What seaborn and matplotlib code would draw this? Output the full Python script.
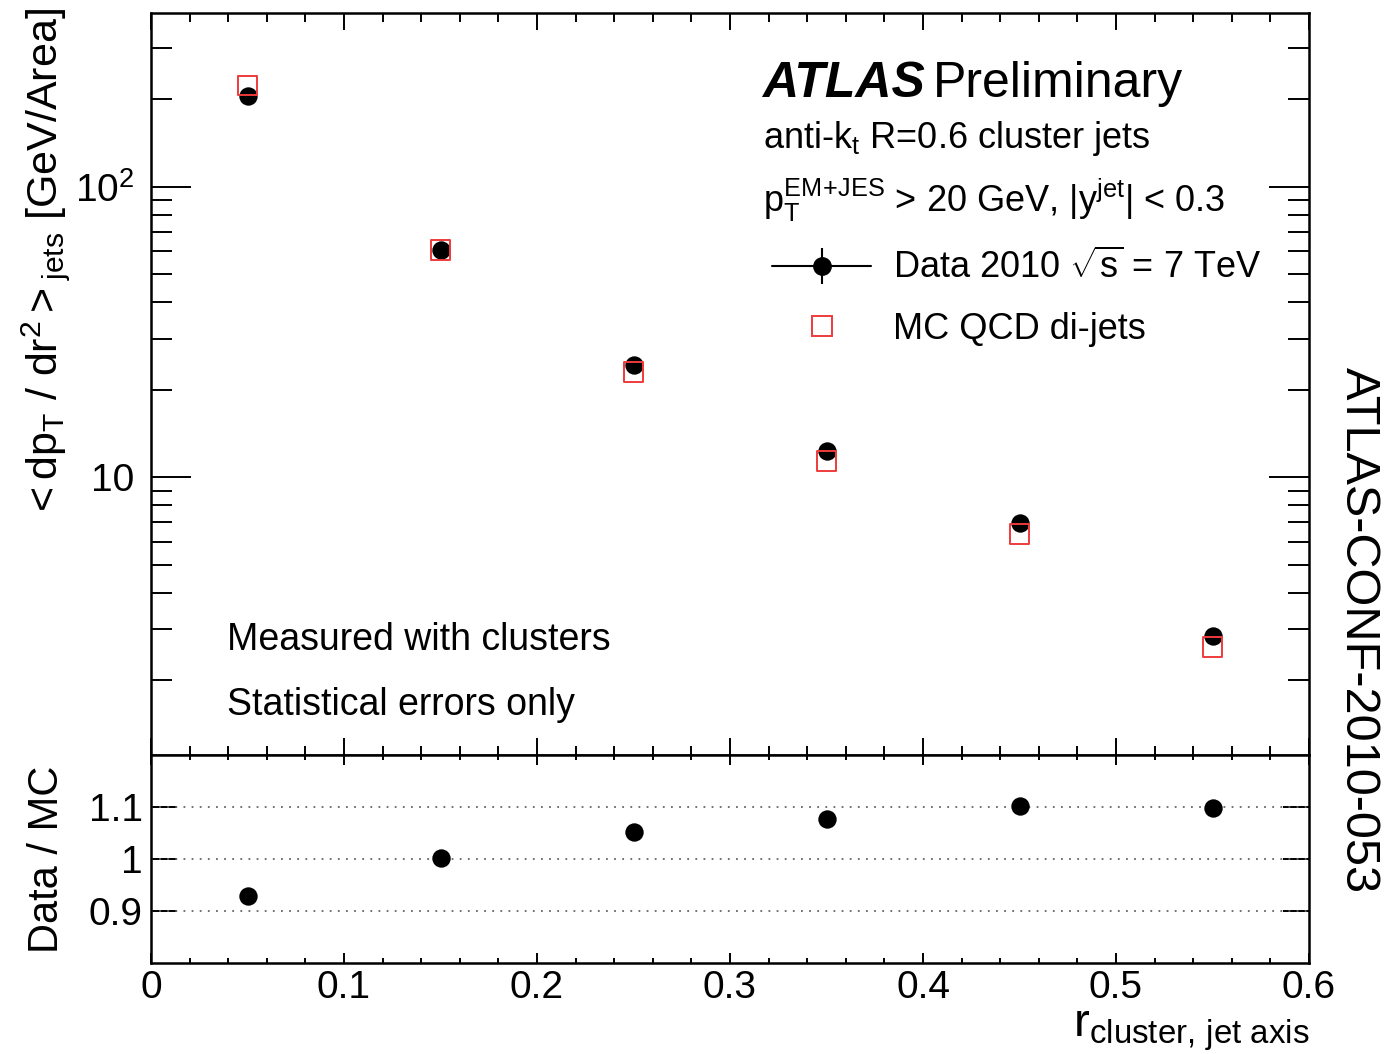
import numpy as np
import pandas as pd
import seaborn as sns
import matplotlib.pyplot as plt
from matplotlib.lines import Line2D
from matplotlib.legend_handler import HandlerTuple
from matplotlib.ticker import MultipleLocator, LogLocator, FixedLocator, FuncFormatter, NullFormatter

# values
r_bins = [0.05, 0.15, 0.25, 0.35, 0.45, 0.55]
data_dpt = [205.0, 60.7, 24.3, 12.3, 6.95, 2.84]
mc_dpt = [223.0, 60.7, 23.0, 11.4, 6.37, 2.61]
ratio_vals = [0.928, 1.002, 1.052, 1.077, 1.102, 1.098]

x_ticks = [0.0, 0.1, 0.2, 0.3, 0.4, 0.5, 0.6]
y_major = [10, 100]
y_major_labels = ['10', r'$10^{2}$']
ratio_ticks = [0.9, 1.0, 1.1]
ratio_labels = ['0.9', '1', '1.1']

W, H = 1397, 1054


def px(x, y):
    """pixel (from top-left) -> figure fraction"""
    return x / W, 1 - y / H


sns.set_style('ticks')
plt.rcParams['font.family'] = ['Liberation Sans', 'DejaVu Sans']
plt.rcParams['mathtext.fontset'] = 'custom'
plt.rcParams['mathtext.rm'] = 'Liberation Sans'
plt.rcParams['mathtext.it'] = 'Liberation Sans:italic'
plt.rcParams['mathtext.bf'] = 'Liberation Sans:bold'
plt.rcParams['mathtext.sf'] = 'Liberation Sans'
plt.rcParams['mathtext.default'] = 'regular'
plt.rcParams['axes.linewidth'] = 1.8
for key in ['text.color', 'axes.labelcolor', 'axes.edgecolor', 'xtick.color', 'ytick.color']:
    plt.rcParams[key] = 'black'

df = pd.DataFrame({'r': r_bins, 'data': data_dpt, 'mc': mc_dpt, 'ratio': ratio_vals})

fig = plt.figure(figsize=(W / 100, H / 100), dpi=100)
ax = fig.add_axes([151 / W, 1 - 755 / H, 1158 / W, 742 / H])
ax2 = fig.add_axes([151 / W, 1 - 963 / H, 1158 / W, 208 / H], sharex=ax)

red = '#ee3b3b'

# main panel
sns.scatterplot(data=df, x='r', y='data', ax=ax, color='black', marker='o',
                s=175, linewidth=0, zorder=3)
sns.scatterplot(data=df, x='r', y='mc', ax=ax, marker='s', s=200,
                facecolor='none', edgecolor=red, linewidth=1.4, zorder=4)
ax.set_yscale('log')
ax.set_xlim(0, 0.6)
ax.set_ylim(1.108, 396)
ax.set_xlabel('')
ax.set_ylabel('')

ax.yaxis.set_major_locator(FixedLocator(y_major))
ax.yaxis.set_major_formatter(FuncFormatter(lambda v, pos: y_major_labels[y_major.index(round(v))] if round(v) in y_major else ''))
ax.yaxis.set_minor_locator(LogLocator(base=10, subs=np.arange(2, 10), numticks=20))
ax.yaxis.set_minor_formatter(NullFormatter())
ax.xaxis.set_major_locator(FixedLocator(x_ticks))
ax.xaxis.set_minor_locator(MultipleLocator(0.02))

ax.tick_params(axis='both', which='both', direction='in', top=True, right=True,
               width=1.4, labelbottom=False, labelsize=28)
ax.tick_params(axis='y', which='major', length=29, pad=12)
ax.tick_params(axis='y', which='minor', length=15)
ax.tick_params(axis='x', which='major', length=12)
ax.tick_params(axis='x', which='minor', length=6.5)

# ratio panel
for yv in ratio_ticks:
    ax2.axhline(yv, color='#666666', lw=1.3, ls=(0, (1, 3.5)), zorder=1)
sns.scatterplot(data=df, x='r', y='ratio', ax=ax2, color='black', marker='o',
                s=175, linewidth=0, zorder=3)
ax2.set_ylim(0.8, 1.2)
ax2.set_xlim(0, 0.6)
ax2.set_xlabel('')
ax2.set_ylabel('')
ax2.yaxis.set_major_locator(FixedLocator(ratio_ticks))
ax2.yaxis.set_major_formatter(FuncFormatter(lambda v, pos: ratio_labels[pos] if pos is not None and pos < len(ratio_labels) else ''))
ax2.yaxis.set_minor_locator(FixedLocator([]))
ax2.xaxis.set_major_formatter(FuncFormatter(lambda v, pos: '%g' % round(v, 2)))
ax2.tick_params(axis='both', which='both', direction='in', top=True, right=True,
                width=1.4, labelsize=28)
ax2.tick_params(axis='y', which='major', length=19, pad=6)
ax2.tick_params(axis='x', which='major', length=7, pad=5)
ax2.tick_params(axis='x', which='minor', length=3.5)

# axis titles
fig.text(*px(46, 8), r'$< dp_{T}\ /\ dr^{2} >_{jets}$ [GeV/Area]', rotation=90,
         ha='center', va='top', fontsize=31)
fig.text(*px(47, 859), 'Data / MC', rotation=90, ha='center', va='center', fontsize=30)
fig.text(*px(1310, 1053), r'$r_{cluster,\!\ jet\ axis}$', ha='right', va='bottom', fontsize=34)
fig.text(*px(1358, 630), 'ATLAS-CONF-2010-053', rotation=270, ha='center', va='center', fontsize=35)

# labels inside the plot
fig.text(*px(762, 97), 'ATLAS', fontsize=36, fontweight='bold', fontstyle='italic', va='baseline')
fig.text(*px(933, 97), 'Preliminary', fontsize=36, va='baseline')
fig.text(*px(763, 148), r'anti-k$_{t}$ R=0.6 cluster jets', fontsize=26, va='baseline')
fig.text(*px(763, 212), r'p$_{T}^{EM\!+\!JES}$ > 20 GeV, |y$^{jet}$| < 0.3', fontsize=26, va='baseline')
fig.text(*px(227, 650), 'Measured with clusters', fontsize=27, va='baseline')
fig.text(*px(227, 715), 'Statistical errors only', fontsize=27, va='baseline')

# legend
h_line = Line2D([], [], color='black', lw=1.5, marker='o', ms=12.5)
h_bar = Line2D([], [], color='black', ls='none', marker='|', ms=26, mew=1.5)
h_mc = Line2D([], [], ls='none', marker='s', ms=14, mfc='none', mec=red, mew=1.4)
ax.legend([(h_line, h_bar), h_mc], [r'Data 2010 $\sqrt{s}$ = 7 TeV', 'MC QCD di-jets'],
          handler_map={tuple: HandlerTuple(ndivide=1, pad=0)},
          loc='upper left', bbox_to_anchor=px(772, 250), bbox_transform=fig.transFigure,
          frameon=False, fontsize=26, borderpad=0, borderaxespad=0,
          handlelength=2.75, handletextpad=0.6, labelspacing=0.7)

fig.savefig('out.png', dpi=100)
